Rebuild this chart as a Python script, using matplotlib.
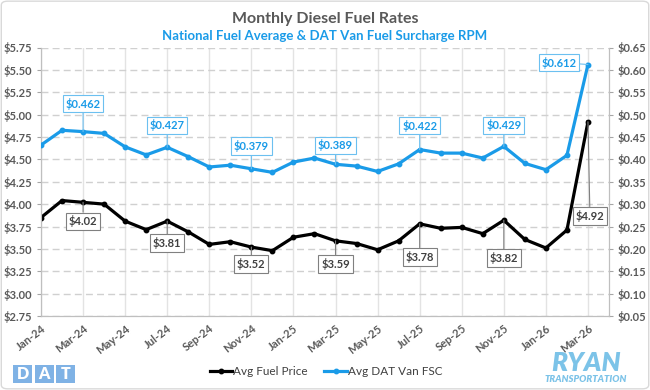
import numpy as np
import matplotlib.pyplot as plt
from matplotlib.patches import FancyBboxPatch, Rectangle

months = ['Jan-24', 'Feb-24', 'Mar-24', 'Apr-24', 'May-24', 'Jun-24', 'Jul-24', 'Aug-24', 'Sep-24',
          'Oct-24', 'Nov-24', 'Dec-24', 'Jan-25', 'Feb-25', 'Mar-25', 'Apr-25', 'May-25', 'Jun-25',
          'Jul-25', 'Aug-25', 'Sep-25', 'Oct-25', 'Nov-25', 'Dec-25', 'Jan-26', 'Feb-26', 'Mar-26']
fuel_price = [3.85, 4.04, 4.02, 4.00, 3.81, 3.715, 3.81, 3.69, 3.55, 3.58, 3.52, 3.48, 3.63, 3.67,
              3.59, 3.56, 3.49, 3.59, 3.78, 3.73, 3.74, 3.67, 3.82, 3.605, 3.51, 3.71, 4.92]
van_fsc = [0.432, 0.465, 0.462, 0.458, 0.428, 0.41, 0.427, 0.406, 0.383, 0.387, 0.379, 0.371, 0.394,
           0.403, 0.389, 0.385, 0.373, 0.39, 0.422, 0.414, 0.414, 0.403, 0.429, 0.391, 0.377, 0.409, 0.612]

# labelled months and label offsets in pixels (dx, dy)
label_idx = [2, 6, 10, 14, 18, 22, 26]
fsc_offsets = [(0, 28), (0, 22), (0, 23), (0, 19), (0, 24), (0, 21), (-29, 2)]
fuel_offsets = [(0, -19), (0, -22), (0, -17), (0, -23), (0, -33), (0, -38), (2, -94)]

BLUE = '#1A9BE8'
GRAY = '#595959'
plt.rcParams['font.family'] = ['Lato', 'DejaVu Sans']
plt.rcParams['font.weight'] = 'bold'

fig = plt.figure(figsize=(6.5, 3.9), dpi=100)
ax = fig.add_axes([41 / 650, 1 - 316 / 390, 568 / 650, 268.5 / 390])
ax2 = ax.twinx()

x = np.arange(len(months))
ax.plot(x, fuel_price, color='black', lw=2.3, marker='o', ms=3.2, zorder=3, label='Avg Fuel Price')
ax2.plot(x, van_fsc, color=BLUE, lw=2.3, marker='o', ms=3.2, zorder=3, label='Avg DAT Van FSC')

ax.set_xlim(0, 27)
ax.set_ylim(2.75, 5.75)
ax2.set_ylim(0.05, 0.65)
ax.set_yticks(np.arange(2.75, 5.76, 0.25))
ax2.set_yticks(np.arange(0.05, 0.651, 0.05))
ax.set_yticklabels([f'${v:.2f}' for v in ax.get_yticks()])
ax2.set_yticklabels([f'${v:.2f}' for v in ax2.get_yticks()])
ax.set_xticks(x[::2])
ax.set_xticklabels(months[::2], rotation=38, ha='right', rotation_mode='anchor')

ax.grid(axis='y', color='#D0D0D0', ls=(0, (5, 3)), lw=1.0)
ax.grid(axis='x', color='#E3E3E3', ls='-', lw=1.0)
ax.set_axisbelow(True)
for a in (ax, ax2):
    a.spines['top'].set_visible(False)
    for s in ('left', 'right', 'bottom'):
        a.spines[s].set_color('#BFBFBF')
    a.tick_params(colors=GRAY, labelsize=8, length=3, width=0.8)
    a.tick_params(axis='y', color='#A6A6A6')
ax.tick_params(axis='x', length=0, pad=5)
ax2.set_zorder(ax.get_zorder() + 1)
ax2.patch.set_visible(False)

for i, (dx, dy) in zip(label_idx, fsc_offsets):
    ax2.annotate(f'${van_fsc[i]:.3f}', (i, van_fsc[i]), xytext=(dx, dy), textcoords='offset pixels',
                 ha='center', va='center', color=BLUE, fontsize=8, fontweight='bold',
                 bbox=dict(boxstyle='square,pad=0.25', fc='white', ec='#6CC0F0', lw=0.8),
                 arrowprops=dict(arrowstyle='-', color='#6CC0F0', lw=0.8, shrinkA=0, shrinkB=0),
                 zorder=5)
for i, (dx, dy) in zip(label_idx, fuel_offsets):
    ax2.annotate(f'${fuel_price[i]:.2f}', (i, (fuel_price[i] - 2.75) / 5 + 0.05), xytext=(dx, dy),
                 textcoords='offset pixels', ha='center', va='center', color='#404040', fontsize=8,
                 fontweight='bold',
                 bbox=dict(boxstyle='square,pad=0.25', fc='white', ec='#808080', lw=0.8),
                 arrowprops=dict(arrowstyle='-', color='#808080', lw=0.8, shrinkA=0, shrinkB=0),
                 zorder=5)

fig.text(0.5, 1 - 19 / 390, 'Monthly Diesel Fuel Rates', ha='center', va='center',
         fontsize=11.5, color=GRAY, fontweight='bold')
fig.text(0.5, 1 - 36.5 / 390, 'National Fuel Average & DAT Van Fuel Surcharge RPM', ha='center',
         va='center', fontsize=9.5, color=BLUE, fontweight='bold')

h1, l1 = ax.get_legend_handles_labels()
h2, l2 = ax2.get_legend_handles_labels()
fig.legend(h1 + h2, l1 + l2, loc='center', bbox_to_anchor=(326 / 650, 1 - 371.7 / 390), ncol=2,
           frameon=False, handlelength=1.9, handletextpad=0.1, columnspacing=1.4,
           labelcolor='#404040', prop={'weight': 'normal', 'size': 8.5})

# DAT logo
for k, letter in enumerate('DAT'):
    x0 = 13 + k * 21.5
    fig.patches.append(Rectangle((x0 / 650, 1 - 382.7 / 390), 19 / 650, 18 / 390,
                                 transform=fig.transFigure, fc='#7FB2E5', ec='none'))
    fig.text((x0 + 9.5) / 650, 1 - 373.8 / 390, letter, ha='center', va='center', color='white',
             fontsize=11.5, fontweight='heavy')

# RYAN logo
fig.text(586 / 650, 1 - 363 / 390, 'RYAN', ha='center', va='center', color='#7CC3E8',
         fontsize=19, fontweight='heavy', style='italic')
fig.text(586 / 650, 1 - 379.5 / 390, 'TRANSPORTATION', ha='center', va='center', color='#7CC3E8',
         fontsize=6.8, fontweight='heavy', style='italic')

fig.patches.append(FancyBboxPatch((0.002, 0.003), 0.996, 0.994, boxstyle='round,pad=0,rounding_size=0.01',
                                  transform=fig.transFigure, fc='none', ec='#D9D9D9', lw=1))

fig.savefig('out.png', dpi=100)
